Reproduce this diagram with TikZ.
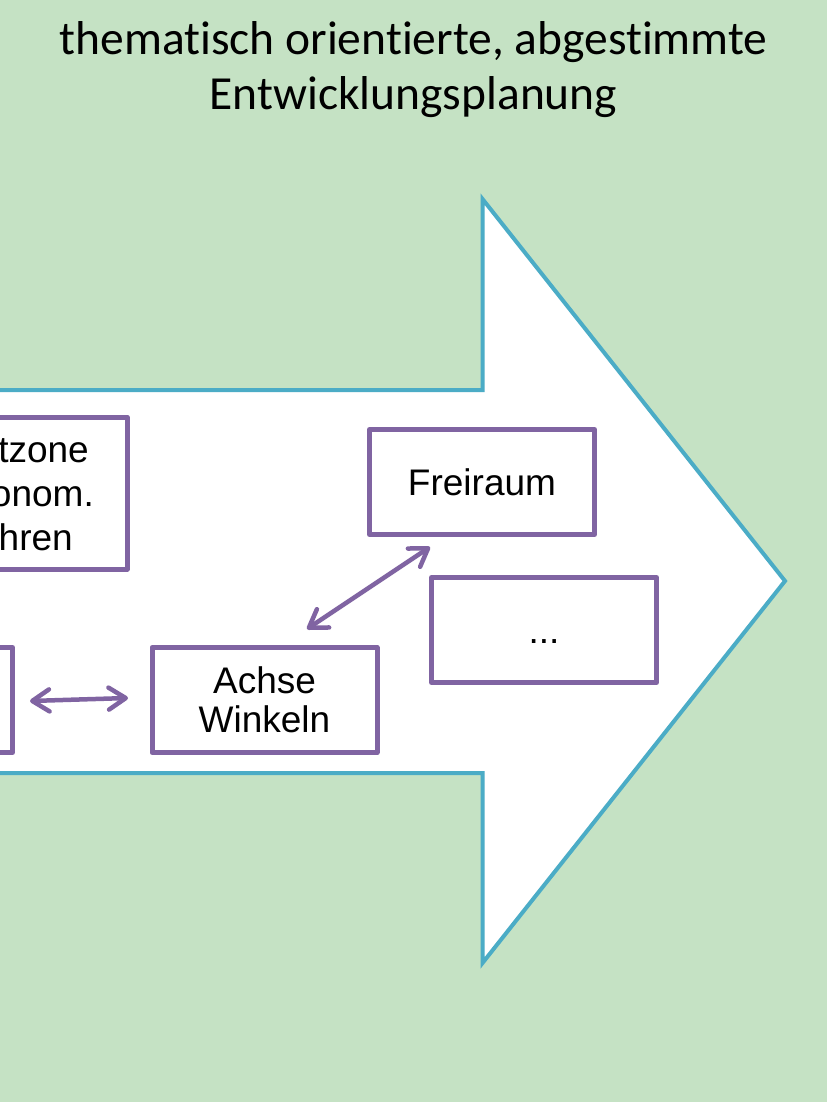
\documentclass[tikz,border=0pt]{standalone}
\usepackage{fontspec}
\setmainfont{Liberation Sans}
\newfontfamily\titlefont[Ligatures=NoCommon]{Carlito}
\usetikzlibrary{arrows.meta}
\definecolor{bggreen}{HTML}{C5E2C4}
\definecolor{arrowblue}{HTML}{4BACC6}
\definecolor{boxpurple}{HTML}{8064A2}
\tikzset{barb/.tip={Straight Barb[length=17pt,width=22pt,round]}}
\begin{document}
\begin{tikzpicture}[x=1pt,y=-1pt,
  box/.style={draw=boxpurple, line width=5pt, fill=white, line join=round,
    inner sep=0pt, outer sep=0pt, minimum width=225pt, minimum height=105pt,
    align=center, font=\fontsize{37}{39}\selectfont},
  boxtext/.style={inner sep=0pt, font=\fontsize{37}{44}\selectfont},
  titletext/.style={inner sep=0pt, font=\titlefont\fontsize{47.5}{55}\selectfont},
  link/.style={draw=boxpurple, line width=4.5pt, line cap=round, barb-barb},
  bigarrow/.style={draw=arrowblue, line width=4pt, fill=white, line join=miter}
]
\fill[bggreen] (0,0) rectangle (827,1102);
\useasboundingbox (0,0) rectangle (827,1102);

\node[titletext, anchor=base] (t1) at (413.5,55) {thematisch orientierte, abgestimmte};
\node[titletext, anchor=base] (t2) at (413.5,110) {Entwicklungsplanung};

\draw[bigarrow] (-20,390) -- (482.5,390) -- (482.5,199) -- (785,581)
  -- (482.5,963) -- (482.5,773) -- (-20,773) -- cycle;

\node[box, minimum height=152pt] (b1) at (14.5,493) {};
\node[boxtext, anchor=base east] (b1l1) at (89,462) {tzone};
\node[boxtext, anchor=base east] (b1l2) at (94,506) {onom.};
\node[boxtext, anchor=base east] (b1l3) at (73,550) {hren};

\node[box] (lbox) at (-100,700) {};
\node[box] (achse) at (264.5,700) {Achse\\Winkeln};
\node[box] (frei) at (482,482) {Freiraum};
\node[box, text height=26.6pt, text depth=0pt] (dots) at (544,630) {...};

\draw[link] ([shift={(17.5,1)}]lbox.east) -- ([shift={(-24,-2)}]achse.west);
\draw[link] ([shift={(42.5,-18.5)}]achse.north) -- ([shift={(-52,12.5)}]frei.south);
\end{tikzpicture}
\end{document}
